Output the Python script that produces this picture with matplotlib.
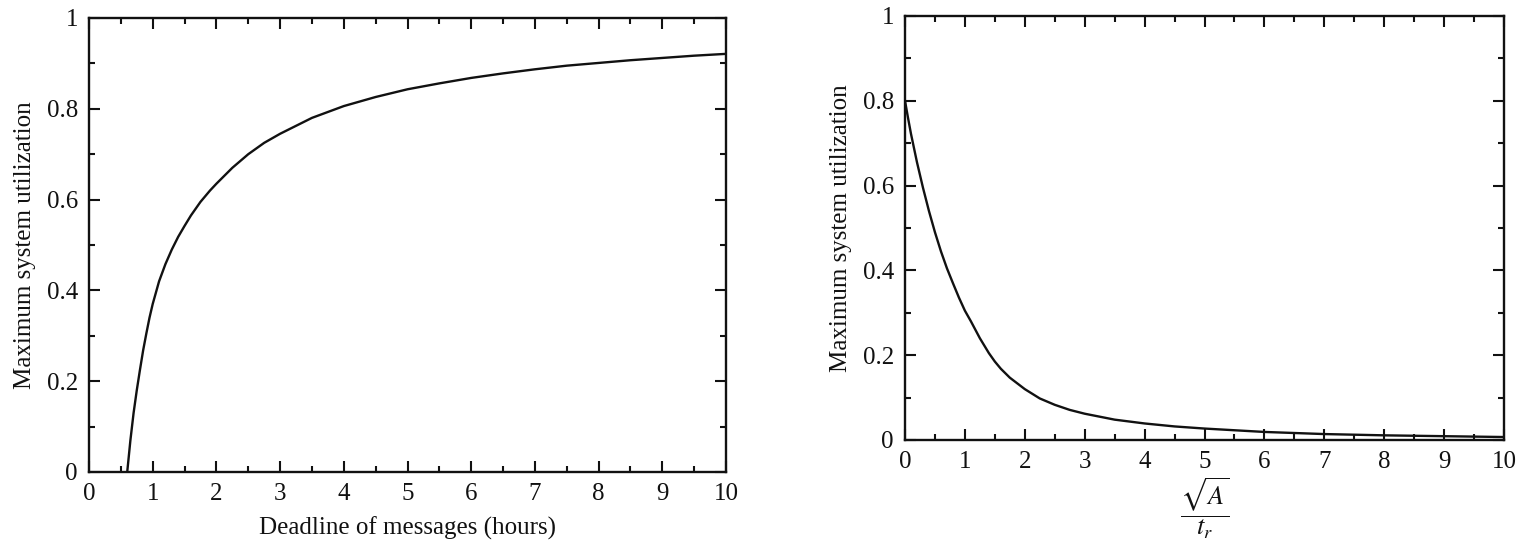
import matplotlib
matplotlib.use("Agg")
import matplotlib.pyplot as plt
from matplotlib.ticker import MultipleLocator, FuncFormatter

plt.rcParams['font.family'] = ['Liberation Serif', 'DejaVu Serif']
plt.rcParams['mathtext.fontset'] = 'stix'

# Left panel: deadline (hours) vs maximum utilization
left_x = [0.60, 0.65, 0.70, 0.75, 0.80, 0.85, 0.90, 0.95, 1.00, 1.10, 1.20, 1.30, 1.40,
          1.50, 1.60, 1.75, 1.90, 2.00, 2.25, 2.50, 2.75, 3.00, 3.50, 4.00, 4.50, 5.00,
          5.50, 6.00, 6.50, 7.00, 7.50, 8.00, 8.50, 9.00, 9.50, 10.00]
left_y = [0.000, 0.070, 0.130, 0.180, 0.225, 0.268, 0.305, 0.340, 0.370, 0.420, 0.458,
          0.490, 0.518, 0.542, 0.565, 0.595, 0.620, 0.635, 0.670, 0.700, 0.725, 0.745,
          0.780, 0.806, 0.826, 0.843, 0.856, 0.868, 0.878, 0.887, 0.895, 0.901, 0.907,
          0.912, 0.917, 0.921]

# Right panel: sqrt(A)/t_r vs maximum utilization
right_x = [0.00, 0.05, 0.10, 0.20, 0.30, 0.40, 0.50, 0.60, 0.70, 0.80, 0.90, 1.00, 1.10,
           1.25, 1.40, 1.50, 1.60, 1.75, 2.00, 2.25, 2.50, 2.75, 3.00, 3.50, 4.00, 4.50,
           5.00, 6.00, 7.00, 8.00, 9.00, 10.00]
right_y = [0.800, 0.760, 0.722, 0.655, 0.595, 0.540, 0.490, 0.445, 0.405, 0.370, 0.336,
           0.305, 0.280, 0.240, 0.205, 0.185, 0.168, 0.147, 0.120, 0.098, 0.083, 0.071,
           0.062, 0.048, 0.039, 0.032, 0.027, 0.019, 0.014, 0.011, 0.009, 0.007]

ylabel = "Maximum system utilization"
left_xlabel = "Deadline of messages (hours)"
right_xlabel = r"$\dfrac{\sqrt{A}}{t_r}$"

W, H = 1527, 554
fig = plt.figure(figsize=(W / 100, H / 100), dpi=100)

ax1 = fig.add_axes([89 / W, 1 - 472 / H, (726 - 89) / W, (472 - 18) / H])
ax2 = fig.add_axes([905 / W, 1 - 440 / H, (1504 - 905) / W, (440 - 16) / H])

fmt = FuncFormatter(lambda v, p: ("%g" % round(v, 3)))

for ax in (ax1, ax2):
    ax.set_xlim(0, 10)
    ax.set_ylim(0, 1)
    ax.xaxis.set_major_locator(MultipleLocator(1))
    ax.xaxis.set_minor_locator(MultipleLocator(0.5))
    ax.yaxis.set_major_locator(MultipleLocator(0.2))
    ax.yaxis.set_minor_locator(MultipleLocator(0.1))
    ax.yaxis.set_major_formatter(fmt)
    ax.tick_params(which='both', direction='in', top=True, right=True,
                   width=1.5, colors='#111111', labelsize=18, labelcolor='#111111')
    ax.tick_params(which='major', length=8)
    ax.tick_params(which='minor', length=4)
    ax.tick_params(axis='x', pad=8)
    ax.tick_params(axis='y', pad=8)
    for s in ax.spines.values():
        s.set_linewidth(1.7)
        s.set_color('#111111')
    ax.set_ylabel(ylabel, fontsize=18, color='#111111', labelpad=8)

ax1.plot(left_x, left_y, color='#111111', lw=1.7)
ax2.plot(right_x, right_y, color='#111111', lw=1.7)

ax1.set_xlabel(left_xlabel, fontsize=18, color='#111111', labelpad=8)
ax2.set_xlabel(right_xlabel, fontsize=19, color='#111111', labelpad=2)

fig.savefig("out.png", dpi=100, facecolor='white')
